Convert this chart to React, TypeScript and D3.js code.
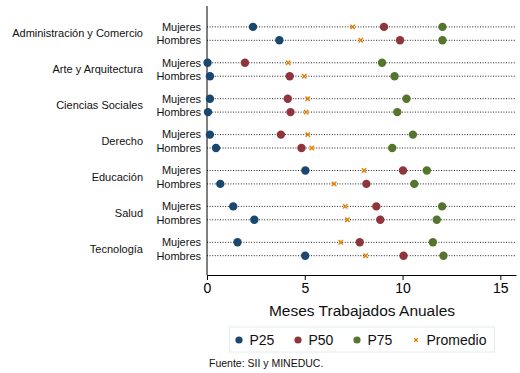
import { useRef, useEffect } from "react";
import * as d3 from "d3";

const areas = [
  "Administración y Comercio",
  "Arte y Arquitectura",
  "Ciencias Sociales",
  "Derecho",
  "Educación",
  "Salud",
  "Tecnología",
];
const sexes = ["Mujeres", "Hombres"];

// values per row: area x sex (Mujeres, Hombres)
const p25 = [2.35, 3.7, 0.03, 0.15, 0.15, 0.05, 0.15, 0.46, 5.03, 0.68, 1.34, 2.42, 1.56, 5.02];
const p50 = [9.05, 9.87, 1.94, 4.23, 4.13, 4.27, 3.78, 4.83, 10.02, 8.15, 8.66, 8.86, 7.81, 10.05];
const p75 = [12.04, 12.04, 8.95, 9.59, 10.2, 9.73, 10.53, 9.47, 11.24, 10.6, 12.02, 11.75, 11.55, 12.09];
const promedio = [7.45, 7.86, 4.15, 4.97, 5.15, 5.07, 5.15, 5.36, 8.03, 6.5, 7.07, 7.18, 6.84, 8.11];

const xTicks = [0, 5, 10, 15];
const legendLabels = ["P25", "P50", "P75", "Promedio"];

const App = () => {
  const chartRef = useRef<SVGSVGElement | null>(null);

  useEffect(() => {
    if (chartRef.current === null) return;
    const width = 520;
    const height = 373;
    const font = "'Liberation Sans', Arial, sans-serif";
    const colors = ["#1a476f", "#90353b", "#55752f", "#e37e00"];

    const svg = d3.select(chartRef.current);
    svg.selectAll("*").remove();
    svg.attr("width", width).attr("height", height).style("font-family", font);

    const plotLeft = 207;
    const plotRight = 516;
    const plotTop = 6;
    const plotBottom = 275;

    const x = d3.scaleLinear().domain([0, 15.8]).range([plotLeft, plotRight]);
    const yGroup = d3.scalePoint<string>().domain(areas).range([33.6, 249]);
    const ySub = d3.scalePoint<string>().domain(sexes).range([-6.7, 6.7]);

    const rows = areas.flatMap((a, i) =>
      sexes.map((s, j) => ({
        area: a,
        sex: s,
        y: (yGroup(a) ?? 0) + (ySub(s) ?? 0),
        vals: [p25[i * 2 + j], p50[i * 2 + j], p75[i * 2 + j]],
        mean: promedio[i * 2 + j],
      }))
    );

    // dotted guide lines
    svg
      .selectAll(".guide")
      .data(rows)
      .enter()
      .append("line")
      .attr("x1", plotLeft)
      .attr("x2", plotRight)
      .attr("y1", (d) => d.y)
      .attr("y2", (d) => d.y)
      .attr("stroke", "#222")
      .attr("stroke-width", 1)
      .attr("stroke-dasharray", "1,1.6");

    // sex labels
    svg
      .selectAll(".sex")
      .data(rows)
      .enter()
      .append("text")
      .attr("x", 201)
      .attr("y", (d) => d.y)
      .attr("dy", "0.35em")
      .attr("text-anchor", "end")
      .attr("font-size", 11)
      .attr("fill", "#111")
      .text((d) => d.sex);

    // area labels
    svg
      .selectAll(".area")
      .data(areas)
      .enter()
      .append("text")
      .attr("x", 143)
      .attr("y", (d) => yGroup(d) ?? 0)
      .attr("dy", "0.35em")
      .attr("text-anchor", "end")
      .attr("font-size", 11)
      .attr("fill", "#111")
      .text((d) => d);

    // axes
    svg
      .append("line")
      .attr("x1", plotLeft)
      .attr("x2", plotLeft)
      .attr("y1", plotTop)
      .attr("y2", plotBottom)
      .attr("stroke", "#000");

    const xAxis = svg
      .append("g")
      .attr("transform", `translate(0,${plotBottom})`)
      .call(d3.axisBottom(x).tickValues(xTicks).tickSize(5).tickSizeOuter(0).tickPadding(3));
    xAxis.select(".domain").attr("stroke", "#000");
    xAxis.selectAll("text").attr("font-size", 14).attr("font-family", font).attr("fill", "#000");

    svg
      .append("text")
      .attr("x", (plotLeft + plotRight) / 2 + 0.5)
      .attr("y", 316)
      .attr("text-anchor", "middle")
      .attr("font-size", 15.5)
      .attr("fill", "#111")
      .text("Meses Trabajados Anuales");

    // points
    rows.forEach((r) => {
      r.vals.forEach((v, k) => {
        svg
          .append("circle")
          .attr("cx", x(v))
          .attr("cy", r.y)
          .attr("r", 4.2)
          .attr("fill", colors[k]);
      });
      const mx = x(r.mean);
      svg
        .append("path")
        .attr("d", `M${mx - 2.2},${r.y - 2.2}L${mx + 2.2},${r.y + 2.2}M${mx - 2.2},${r.y + 2.2}L${mx + 2.2},${r.y - 2.2}`)
        .attr("stroke", colors[3])
        .attr("stroke-width", 1.4);
    });

    // legend
    svg
      .append("rect")
      .attr("x", 229.5)
      .attr("y", 327)
      .attr("width", 265)
      .attr("height", 25)
      .attr("fill", "#fff")
      .attr("stroke", "#e2ecee");

    const legendX = [239, 298, 357, 416];
    legendLabels.forEach((lab, i) => {
      const g = svg.append("g").attr("transform", `translate(${legendX[i]},340)`);
      if (i < 3) {
        g.append("circle").attr("r", 3.6).attr("fill", colors[i]);
      } else {
        g.append("path")
          .attr("d", "M-1.8,-1.8L1.8,1.8M-1.8,1.8L1.8,-1.8")
          .attr("stroke", colors[3])
          .attr("stroke-width", 1.3);
      }
      g.append("text")
        .attr("x", 10.5)
        .attr("dy", "0.35em")
        .attr("font-size", 14)
        .attr("fill", "#111")
        .text(lab);
    });

    svg
      .append("text")
      .attr("x", 209)
      .attr("y", 367)
      .attr("font-size", 10.5)
      .attr("fill", "#111")
      .text("Fuente: SII y MINEDUC.");
  }, []);

  return <svg ref={chartRef} style={{ position: "absolute", left: 0, top: 0 }} />;
};

export default App;
